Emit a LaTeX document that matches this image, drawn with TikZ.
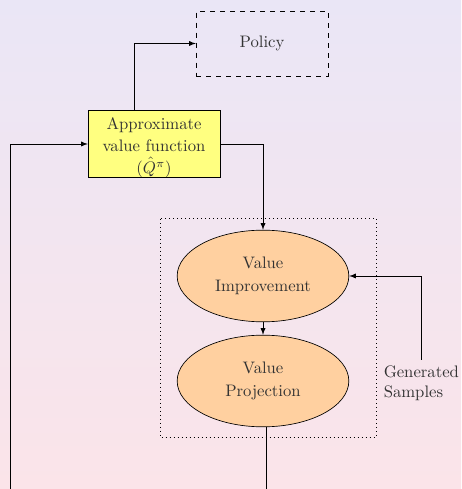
\documentclass[tikz,border=0pt]{standalone}
\usepackage{amsfonts, amssymb, amsmath}
\usepackage{tikz}
\usetikzlibrary{shapes, arrows}
\usetikzlibrary{positioning}
\definecolor{bgtop}{RGB}{234,230,246}
\definecolor{bgbottom}{RGB}{251,228,233}
\definecolor{boxyellow}{RGB}{255,255,128}
\definecolor{peach}{RGB}{255,208,160}
\tikzstyle{block} = [rectangle, minimum width = 79, minimum height = 39.6,
  draw = black, fill = boxyellow, text = black!80, align = center,
  inner sep = 0]
\tikzstyle{dashbox} = [rectangle, dashed, minimum width = 79,
  minimum height = 39, draw = black, text = black!80]
\tikzstyle{stage} = [
  ellipse,
  minimum width = 103, minimum height = 55,
  draw = black, fill = peach, text = black!80, align = center
]
\tikzstyle{textarea} = [rectangle, text = black!80, align = left]
\tikzstyle{line} = [draw = black, -latex]

\begin{document}
\begin{tikzpicture}[node distance = 0]
    % frame
    \coordinate (frame-nw) at (-92.4pt, 86.4pt);
    \coordinate (frame-se) at (184.2pt, -207pt);
    \shade [top color = bgtop, bottom color = bgbottom] (frame-nw) rectangle
    (frame-se);
    \useasboundingbox (frame-nw) rectangle (frame-se);
    % approx
    \node [block] (approx) at (0, 0)
      {\rule{0pt}{11pt}Approximate\\[1.2pt]value function\\[1.2pt]
      $(\hat{Q}^{\pi})$};
    % policy
    \node [dashbox, above of = approx, xshift = 64.8, yshift = 60.3] (policy)
      {Policy};
    % improve
    \node [stage, below of = approx, xshift = 65.4, yshift = -79.2] (improve)
      {Value\\[1.8pt]Improvement};
    % project
    \node [stage, below of = improve, yshift = -63] (project)
      {Value\\[1.8pt]Projection};
    % samples
    \node [textarea, right of = project, xshift = 95, yshift = -1.2] (samples)
      {Generated\\Samples};
    % dotted frame
    \coordinate (group-nw) at (improve.west |- improve.north);
    \coordinate (group-se) at (project.east |- project.south);
    \draw [dotted] ([xshift = -10.2, yshift = 6.6] group-nw) rectangle
    ([xshift = 16.2, yshift = -6] group-se);

    \draw [line] ([xshift = -12] approx.north) |- (policy.west);
    \draw [line] (approx.east) -| (improve.north);
    \draw [line] (improve.south) -- (project.north);
    \draw [line] (samples.north) |- (improve.east);
    \coordinate (out-end) at ([xshift = 1.8] project.south |- frame-se);
    \draw ([xshift = 1.8] project.south) -- (out-end);
    \coordinate (loop-start) at (-86.4pt, -207pt);
    \draw [line] (loop-start) |- (approx.west);
  \end{tikzpicture}
\end{document}
